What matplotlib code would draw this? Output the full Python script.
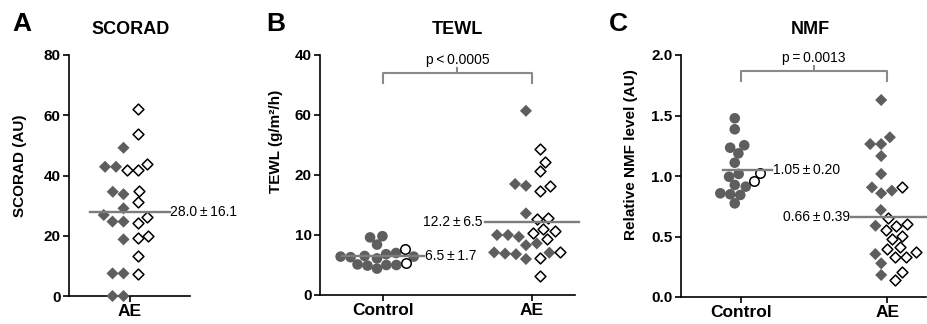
import numpy as np
import matplotlib
matplotlib.use("Agg")
import matplotlib.pyplot as plt

plt.rcParams['font.family'] = ['Liberation Sans', 'DejaVu Sans']

# ---------------- data ----------------
scorad_ae_filled = [42.9, 42.9, 49.2, 33.8, 34.6, 29.1, 26.9, 24.7, 24.7, 18.8, 7.5, 7.5, 0.0, 0.0]
scorad_ae_open = [41.8, 43.8, 41.8, 62.0, 53.9, 34.9, 31.3, 26.1, 24.3, 19.9, 19.1, 13.4, 7.2]
scorad_mean = 28.0
scorad_label = "28.0\u2009\u00b1\u200916.1"

tewl_ctrl_filled = [9.8, 9.6, 8.4, 6.5, 7.0, 6.4, 6.8, 6.3, 6.1, 6.4, 5.0, 4.9, 4.4, 5.0, 5.1]
tewl_ctrl_open = [7.6, 5.3]
tewl_ae_filled = [30.7, 18.2, 18.5, 13.6, 10.0, 10.0, 9.7, 8.6, 8.3, 7.05, 6.8, 6.9, 6.0, 7.1]
tewl_ae_open = [24.3, 22.2, 20.6, 18.2, 17.4, 12.9, 12.6, 11.0, 10.6, 10.3, 9.3, 7.1, 6.1, 3.2]
tewl_means = [6.5, 12.2]
tewl_labels = ["6.5\u2009\u00b1\u20091.7", "12.2\u2009\u00b1\u20096.5"]
tewl_ticks = [0, 10, 20, 30, 40]
tewl_ticklabels = ["0", "10", "20", "60", "40"]
tewl_p = "p\u2009<\u20090.0005"

nmf_ctrl_filled = [1.477, 1.386, 1.254, 1.234, 1.187, 1.11, 1.017, 0.994, 0.912, 0.926,
                   0.857, 0.849, 0.843, 0.774]
nmf_ctrl_open = [1.027, 0.959]
nmf_ae_filled = [1.628, 1.264, 1.32, 1.264, 1.165, 1.017, 0.879, 0.906, 0.857, 0.719,
                 0.589, 0.355, 0.278, 0.182]
nmf_ae_open = [0.912, 0.650, 0.603, 0.587, 0.554, 0.504, 0.477, 0.394, 0.416, 0.333,
               0.333, 0.374, 0.209, 0.140]
nmf_means = [1.05, 0.66]
nmf_labels = ["1.05\u2009\u00b1\u20090.20", "0.66\u2009\u00b1\u20090.39"]
nmf_p = "p\u2009=\u20090.0013"

groups = ["Control", "AE"]

# ---------------- style ----------------
W, H = 927, 324
FILL = '#5e5e5e'
LINEGRAY = '#7d7d7d'
BRACKET = '#8a8a8a'
DIA_S, CIR_S = 38, 58
DIA_D, CIR_D = 11.0, 10.0
fig = plt.figure(figsize=(W / 100, H / 100), dpi=100)


def px_axes(x0, x1, ytop, ybot):
    return fig.add_axes([x0 / W, 1 - ybot / H, (x1 - x0) / W, (ybot - ytop) / H])


def style(ax):
    for s in ['top', 'right']:
        ax.spines[s].set_visible(False)
    for s in ['left', 'bottom']:
        ax.spines[s].set_linewidth(1.2)
    ax.tick_params(direction='out', length=4, width=1.2, pad=2)
    for t in ax.get_yticklabels():
        t.set_fontweight('bold')
        t.set_fontsize(11)
    for t in ax.get_xticklabels():
        t.set_fontweight('bold')
        t.set_fontsize(12.5)


def swarm(vals, grp, ypx, d, bias):
    vals = np.asarray(vals, float)
    order = np.argsort(vals, kind='stable')
    xs = np.zeros(len(vals))
    placed = []
    for i in order:
        y = vals[i] * ypx
        b = bias[grp[i]]
        cands = [b]
        for xj, yj in placed:
            dy = abs(y - yj)
            if dy < d:
                dx = np.sqrt(d * d - dy * dy)
                cands += [xj - dx, xj + dx]
        valid = [c for c in cands
                 if all((c - xj) ** 2 + (y - yj) ** 2 >= d * d - 1e-6 for xj, yj in placed)]
        best = min(valid, key=lambda c: abs(c - b))
        xs[i] = best
        placed.append((best, y))
    return xs


def draw_group(ax, center, filled, opened, marker, ypx, xpx, d, size):
    vals = list(filled) + list(opened)
    grp = [0] * len(filled) + [1] * len(opened)
    offs = swarm(vals, grp, ypx, d, {0: -6.0, 1: 8.0})
    xs = center + offs / xpx
    nf = len(filled)
    ax.scatter(xs[:nf], vals[:nf], s=size, marker=marker, c=FILL, edgecolors='none',
               clip_on=False, zorder=3)
    ax.scatter(xs[nf:], vals[nf:], s=size * 0.8, marker=marker, facecolors='white',
               edgecolors='black', linewidths=1.1, clip_on=False, zorder=3)


def ax_px_per_unit(ax):
    pos = ax.get_position()
    x0, x1 = ax.get_xlim()
    y0, y1 = ax.get_ylim()
    return pos.width * W / (x1 - x0), pos.height * H / (y1 - y0)


# ---------------- panel A ----------------
axA = px_axes(69, 190, 55, 296)
axA.set_xlim(-0.5, 0.5)
axA.set_ylim(0, 80)
axA.set_yticks([0, 20, 40, 60, 80])
axA.set_xticks([0])
axA.set_xticklabels(["AE"])
xpx, ypx = ax_px_per_unit(axA)
draw_group(axA, 0, scorad_ae_filled, scorad_ae_open, 'D', ypx, xpx, DIA_D, DIA_S)
axA.plot([-40 / xpx, 40 / xpx], [scorad_mean] * 2, color=LINEGRAY, lw=1.7, zorder=4,
         clip_on=False)
axA.text(41 / xpx, scorad_mean, scorad_label, fontsize=10, va='center', ha='left')
axA.set_ylabel("SCORAD (AU)", fontsize=11, fontweight='bold')
axA.yaxis.set_label_coords(-0.35, 0.54)
style(axA)

# ---------------- panel B ----------------
axB = px_axes(320, 575, 55, 295)
axB.set_xlim(-0.423, 1.289)
axB.set_ylim(0, 40)
axB.set_yticks(tewl_ticks)
axB.set_yticklabels(tewl_ticklabels)
axB.set_xticks([0, 1])
axB.set_xticklabels(groups)
xpx, ypx = ax_px_per_unit(axB)
draw_group(axB, 0, tewl_ctrl_filled, tewl_ctrl_open, 'o', ypx, xpx, CIR_D, CIR_S)
draw_group(axB, 1, tewl_ae_filled, tewl_ae_open, 'D', ypx, xpx, DIA_D, DIA_S)
axB.plot([-41 / xpx, 41 / xpx], [tewl_means[0]] * 2, color=LINEGRAY, lw=1.7, zorder=4,
         clip_on=False)
axB.text(42 / xpx, tewl_means[0], tewl_labels[0], fontsize=10, va='center', ha='left')
axB.plot([1 - 47 / xpx, 1 + 47 / xpx], [tewl_means[1]] * 2, color=LINEGRAY, lw=1.7,
         zorder=4, clip_on=False)
axB.text(1 - 49 / xpx, tewl_means[1], tewl_labels[1], fontsize=10, va='center', ha='right')
axB.plot([0, 0, 1, 1], [35.3, 37.05, 37.05, 35.3], color=BRACKET, lw=1.5, clip_on=False)
axB.plot([0.5, 0.5], [37.05, 37.8], color=BRACKET, lw=1.5, clip_on=False)
axB.text(0.5, 38.0, tewl_p, fontsize=10, ha='center', va='bottom')
axB.set_ylabel("TEWL (g/m\u00b2/h)", fontsize=11, fontweight='bold')
axB.yaxis.set_label_coords(-0.145, 0.64)
style(axB)

# ---------------- panel C ----------------
axC = px_axes(681, 926, 55, 297)
axC.set_xlim(-0.408, 1.265)
axC.set_ylim(0, 2.0)
axC.set_yticks([0, 0.5, 1.0, 1.5, 2.0])
axC.set_yticklabels(["0.0", "0.5", "1.0", "1.5", "2.0"])
axC.set_xticks([0, 1])
axC.set_xticklabels(groups)
xpx, ypx = ax_px_per_unit(axC)
draw_group(axC, 0, nmf_ctrl_filled, nmf_ctrl_open, 'o', ypx, xpx, CIR_D, CIR_S)
draw_group(axC, 1, nmf_ae_filled, nmf_ae_open, 'D', ypx, xpx, DIA_D, DIA_S)
axC.plot([-18 / xpx, 31 / xpx], [nmf_means[0]] * 2, color=LINEGRAY, lw=1.7, zorder=4,
         clip_on=False)
axC.text(32 / xpx, nmf_means[0], nmf_labels[0], fontsize=10, va='center', ha='left')
axC.plot([1 - 36 / xpx, 1.265], [nmf_means[1]] * 2, color=LINEGRAY, lw=1.7, zorder=4,
         clip_on=False)
axC.text(1 - 37 / xpx, nmf_means[1], nmf_labels[1], fontsize=10, va='center', ha='right')
axC.plot([0, 0, 1, 1], [1.785, 1.87, 1.87, 1.785], color=BRACKET, lw=1.5, clip_on=False)
axC.plot([0.5, 0.5], [1.87, 1.91], color=BRACKET, lw=1.5, clip_on=False)
axC.text(0.5, 1.92, nmf_p, fontsize=10, ha='center', va='bottom')
axC.set_ylabel("Relative NMF level (AU)", fontsize=11, fontweight='bold')
axC.yaxis.set_label_coords(-0.177, 0.59)
style(axC)

# ---------------- titles / panel letters ----------------
for x, t in [(131, "SCORAD"), (457, "TEWL"), (810, "NMF")]:
    fig.text(x / W, 1 - 29 / H, t, fontsize=13, fontweight='bold', ha='center', va='center')
for x, t in [(22, "A"), (276, "B"), (618, "C")]:
    fig.text(x / W, 1 - 24 / H, t, fontsize=19, fontweight='bold', ha='center', va='center')

fig.savefig("out.png", dpi=100)
